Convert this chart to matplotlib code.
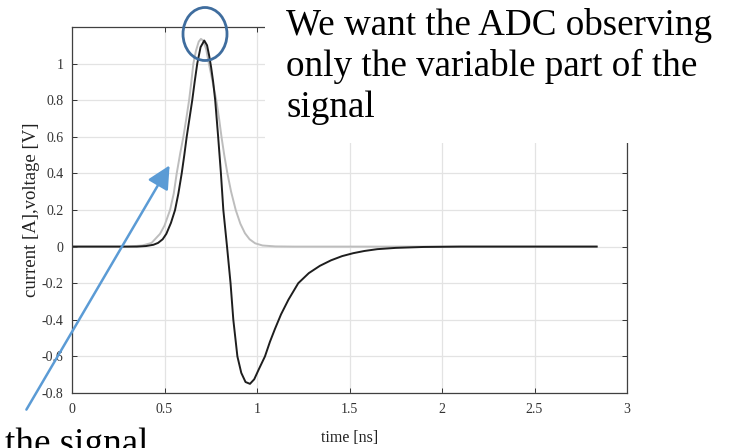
import numpy as np
import matplotlib.pyplot as plt
from matplotlib.patches import Ellipse, Rectangle, FancyArrowPatch

# current pulse (gray)
t_current = [0.00, 0.30, 0.38, 0.43, 0.476, 0.50, 0.53, 0.55, 0.566, 0.585, 0.602,
             0.618, 0.633, 0.645, 0.656, 0.67, 0.685, 0.697, 0.71, 0.725, 0.74,
             0.76, 0.78, 0.795, 0.808, 0.823, 0.84, 0.86, 0.885, 0.91, 0.935,
             0.96, 0.99, 1.03, 1.10, 1.20, 2.836]
current = [0.0, 0.0, 0.006, 0.020, 0.070, 0.115, 0.200, 0.290, 0.400, 0.510, 0.600,
           0.700, 0.800, 0.900, 1.000, 1.070, 1.120, 1.135, 1.125, 1.080, 1.000,
           0.900, 0.800, 0.700, 0.600, 0.500, 0.400, 0.300, 0.200, 0.125, 0.073,
           0.040, 0.018, 0.006, 0.001, 0.0, 0.0]

# shaped voltage (black)
t_voltage = [0.00, 0.35, 0.40, 0.44, 0.465, 0.49, 0.51, 0.535, 0.557, 0.575, 0.593,
             0.607, 0.62, 0.635, 0.65, 0.663, 0.677, 0.695, 0.715, 0.73, 0.742,
             0.752, 0.763, 0.774, 0.79, 0.805, 0.818, 0.838, 0.857, 0.872, 0.894,
             0.915, 0.938, 0.962, 0.985, 1.01, 1.043, 1.07, 1.097, 1.13, 1.17,
             1.223, 1.28, 1.34, 1.40, 1.46, 1.52, 1.58, 1.65, 1.75, 1.90, 2.10, 2.836]
voltage = [0.0, 0.0, 0.003, 0.010, 0.020, 0.040, 0.070, 0.130, 0.200, 0.290, 0.400,
           0.500, 0.600, 0.700, 0.800, 0.900, 1.000, 1.090, 1.126, 1.100, 1.040,
           0.980, 0.900, 0.800, 0.600, 0.400, 0.200, 0.000, -0.200, -0.400, -0.600,
           -0.690, -0.740, -0.750, -0.725, -0.670, -0.600, -0.520, -0.450, -0.370, -0.290,
           -0.200, -0.145, -0.105, -0.075, -0.052, -0.036, -0.024, -0.014, -0.007, -0.002, 0.0, 0.0]

xticks = [0, 0.5, 1, 1.5, 2, 2.5, 3]
xlabels = ['0', '0.5', '1', '1.5', '2', '2.5', '3']
yticks = [-0.8, -0.6, -0.4, -0.2, 0, 0.2, 0.4, 0.6, 0.8, 1]
ylabels = ['-0.8', '-0.6', '-0.4', '-0.2', '0', '0.2', '0.4', '0.6', '0.8', '1']

plt.rcParams['font.family'] = ['Liberation Serif', 'DejaVu Serif']

W, H = 743, 448
fig = plt.figure(figsize=(W / 100, H / 100), dpi=100)
ax = fig.add_axes([72 / W, 1 - 393 / H, (627 - 72) / W, (393 - 27) / H])

ax.plot(t_current, current, color='#bdbdbd', lw=1.4)
ax.plot(t_voltage, voltage, color='#1e1e1e', lw=1.4)

ax.set_xlim(0, 3)
ax.set_ylim(-0.8, 1.2)
ax.set_xticks(xticks)
ax.set_xticklabels(xlabels)
ax.set_yticks(yticks)
ax.set_yticklabels(ylabels)
ax.grid(True, color='#e3e3e3', lw=0.9)
ax.set_axisbelow(True)
ax.tick_params(direction='in', top=True, right=True, length=3.5, width=0.7,
               colors='#333333', labelsize=10)
ax.tick_params(axis='x', pad=7)
ax.tick_params(axis='y', pad=6)
for s in ax.spines.values():
    s.set_color('#404040')
    s.set_linewidth(0.9)

ax.set_xlabel('time [ns]', fontsize=11.5, color='#222222')
ax.set_ylabel('current [A],voltage [V]', fontsize=13.5, color='#222222')
ax.xaxis.set_label_coords(0.5, -0.1)
ax.yaxis.set_label_coords(-0.058, 0.5)

# white text box of the slide covering the top right of the plot
fig.patches.append(Rectangle((265 / W, 1 - 143 / H), 1, 143 / H, transform=fig.transFigure,
                             facecolor='white', edgecolor='none', zorder=5))

lines = ['We want the ADC observing', 'only the variable part of the', 'signal']
for i, s in enumerate(lines):
    fig.text(286 / W, 1 - (35 + 41 * i) / H, s, fontsize=26.7, va='baseline', ha='left',
             color='black', zorder=6)

fig.text(5 / W, 1 - 454 / H, 'the signal', fontsize=26.7, va='baseline', ha='left', color='black')

# circle around the peak
fig.patches.append(Ellipse((205 / W, 1 - 34 / H), 44 / W, 53 / H, transform=fig.transFigure,
                           fill=False, edgecolor='#3f6d9e', lw=2, zorder=7))

# arrow
fig.patches.append(FancyArrowPatch((25 / W, 1 - 412 / H), (171 / W, 1 - 163 / H),
                                   transform=fig.transFigure, color='#5b9bd5', lw=1.8,
                                   arrowstyle='-|>,head_length=0.7,head_width=0.35',
                                   mutation_scale=20, zorder=7))

fig.savefig('out.png', dpi=100)
